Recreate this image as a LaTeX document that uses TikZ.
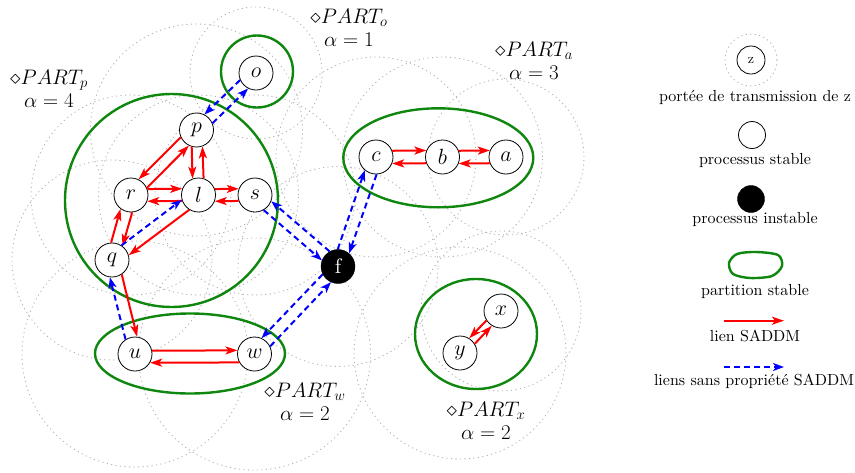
\RequirePackage{fix-cm}
\documentclass[tikz,border=0pt]{standalone}
\usepackage{fontspec}
\setmainfont{lmroman10-regular.otf}
\usetikzlibrary{arrows.meta,calc,backgrounds}
\definecolor{pgreen}{RGB}{15,135,15}
\tikzset{
  procnode/.style={circle,draw,line width=0.8pt,minimum size=34pt,inner sep=0pt,fill=white,font=\fontsize{22}{24}\selectfont},
  badnode/.style={circle,draw,fill=black,text=white,minimum size=34pt,inner sep=0pt,font=\fontsize{21}{22}\selectfont},
  txrange/.style={draw=gray!60,line width=0.9pt,dash pattern=on 1.1pt off 3.4pt},
  partline/.style={draw=pgreen,line width=2.4pt},
  saddmarrow/.style={draw=red,line width=2pt,-{Stealth[length=12pt,width=8pt,inset=3pt]}},
  nosaddmarrow/.style={draw=blue,line width=2pt,dash pattern=on 6pt off 4pt,-{Stealth[length=11pt,width=8pt,inset=3pt]}},
  partlbl/.style={font=\fontsize{21}{23}\selectfont,align=center},
  legtext/.style={font=\fontsize{16}{19}\selectfont,inner sep=0pt},
}
\newcommand\lnk[4]{%
  \draw[#1] let \p1=($(#3)-(#2)$), \n1={atan2(\y1,\x1)}, \n2={asin(#4/17.4)},
    \n3={\n1+\n2}, \n4={\n1+180-\n2} in (#2.\n3) -- (#3.\n4);}
\begin{document}
\begin{tikzpicture}[x=1pt,y=-1pt]
\useasboundingbox (0,0) rectangle (855,472);
% processes
\node[procnode] (o) at (256,73) {$o$};
\node[procnode] (p) at (196.5,130) {$p$};
\node[procnode] (r) at (131,195) {$r$};
\node[procnode] (l) at (198.5,195) {$l$};
\node[procnode] (s) at (255,195) {$s$};
\node[procnode] (q) at (112,260) {$q$};
\node[procnode] (u) at (135,354) {$u$};
\node[procnode] (w) at (254.5,354) {$w$};
\node[badnode] (f) at (338,266.5) {f};
\node[procnode] (c) at (376,157) {$c$};
\node[procnode] (b) at (442.5,157) {$b$};
\node[procnode] (a) at (506,157) {$a$};
\node[procnode] (x) at (501,311) {$x$};
\node[procnode] (y) at (460,353) {$y$};
\begin{scope}[on background layer]
  \foreach \n/\rr in {o/66,p/106,r/100,l/100,s/100,q/100,u/113,w/116,f/100,c/100,b/100,a/78,x/80,y/106}
    \draw[txrange] (\n) circle[radius=\rr pt];
  \draw[partline] (257,71.5) circle[radius=36pt];
  \draw[partline] (171.5,200.5) circle[radius=106.5pt];
  \draw[partline] (190,353.5) ellipse[x radius=95pt,y radius=40pt];
  \draw[partline] (438.3,157.8) ellipse[x radius=95pt,y radius=49.5pt];
  \draw[partline] (476,334) ellipse[x radius=61pt,y radius=55pt];
\end{scope}
% SADDM links
\lnk{saddmarrow}{p}{r}{-6}
\lnk{saddmarrow}{r}{p}{-6}
\lnk{saddmarrow}{p}{l}{-5.5}
\lnk{saddmarrow}{l}{p}{-5.5}
\lnk{saddmarrow}{r}{l}{6}
\lnk{saddmarrow}{l}{r}{6}
\lnk{saddmarrow}{l}{s}{6}
\lnk{saddmarrow}{s}{l}{6}
\lnk{saddmarrow}{r}{q}{6}
\lnk{saddmarrow}{q}{r}{6}
\lnk{saddmarrow}{l}{q}{6}
\lnk{saddmarrow}{q}{u}{6}
\lnk{saddmarrow}{u}{w}{3.5}
\lnk{saddmarrow}{w}{u}{8.5}
\lnk{saddmarrow}{c}{b}{6.5}
\lnk{saddmarrow}{b}{c}{6.5}
\lnk{saddmarrow}{b}{a}{6.5}
\lnk{saddmarrow}{a}{b}{6.5}
\lnk{saddmarrow}{x}{y}{-4}
\lnk{saddmarrow}{y}{x}{-4}
% non-SADDM links
\lnk{nosaddmarrow}{o}{p}{-6}
\lnk{nosaddmarrow}{p}{o}{-6}
\lnk{nosaddmarrow}{q}{l}{6}
\lnk{nosaddmarrow}{u}{q}{6}
\lnk{nosaddmarrow}{s}{f}{-6}
\lnk{nosaddmarrow}{f}{s}{-6}
\lnk{nosaddmarrow}{f}{c}{6}
\lnk{nosaddmarrow}{c}{f}{6}
\lnk{nosaddmarrow}{f}{w}{-6}
\lnk{nosaddmarrow}{w}{f}{-6}
% partition labels
\node[partlbl] (Lp) at (49,89) {$\diamond PART_p$\\$\alpha=4$};
\node[partlbl] (Lo) at (349,28) {$\diamond PART_o$\\$\alpha=1$};
\node[partlbl] (La) at (534,61) {$\diamond PART_a$\\$\alpha=3$};
\node[partlbl] (Lw) at (305,402) {$\diamond PART_w$\\$\alpha=2$};
\node[partlbl] (Lx) at (486,421) {$\diamond PART_x$\\$\alpha=2$};
% legend
\node[circle,draw,line width=0.8pt,minimum size=28pt,inner sep=0pt,font=\fontsize{14}{16}\selectfont] (z) at (751,60) {z};
\draw[txrange] (z) circle[radius=26pt];
\node[legtext] (t1) at (755,97) {portée de transmission de z};
\node[circle,draw,line width=0.8pt,minimum size=27pt,inner sep=0pt] (ls) at (752,135) {};
\node[legtext] (t2) at (755,160) {processus stable};
\node[circle,draw,fill=black,minimum size=27pt,inner sep=0pt] (lu) at (751,199) {};
\node[legtext] (t3) at (755,219) {processus instable};
\draw[partline] plot[smooth cycle] coordinates {(729,263) (737,254) (756,252) (778,255) (782,266) (772,276) (750,278) (733,274)};
\node[legtext] (t4) at (755,291) {partition stable};
\coordinate (ra) at (724,320.7);
\coordinate (rb) at (784,320.7);
\draw[saddmarrow] (ra) -- (rb);
\node[legtext] (t5) at (755,336) {lien SADDM};
\coordinate (ba) at (724,367);
\coordinate (bb) at (784,367);
\draw[nosaddmarrow] (ba) -- (bb);
\node[legtext] (t6) at (754,381) {liens sans propriété SADDM};
\end{tikzpicture}
\end{document}
